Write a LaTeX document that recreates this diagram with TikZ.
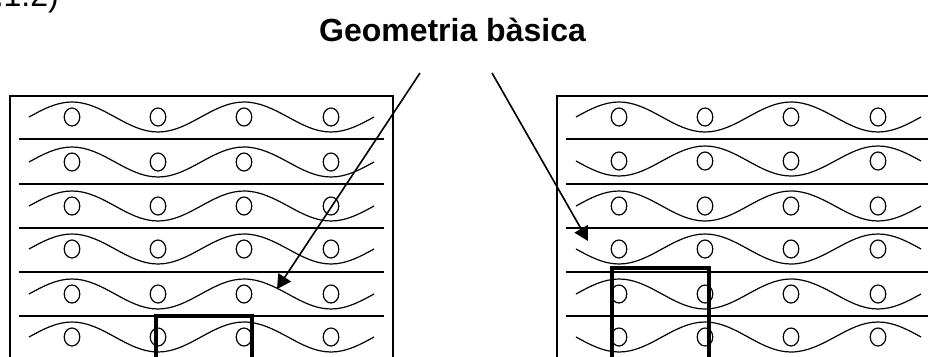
\documentclass[tikz,border=0pt]{standalone}
\usepackage{fontspec}
\setmainfont{Liberation Sans}
\usetikzlibrary{arrows.meta}

\tikzset{
  frameline/.style={draw,line width=1.1pt},
  warpline/.style={draw,line width=1.4pt},
  weftline/.style={draw,line width=1.2pt},
  yarnhole/.style={draw,line width=1.2pt,x radius=7.8,y radius=9},
  unitcell/.style={draw,line width=3.6pt},
  pointer/.style={-{Triangle[length=14pt,width=15pt]},line width=1.6pt},
}

\begin{document}
\begin{tikzpicture}[x=1pt,y=-1pt]
  \useasboundingbox (0,0) rectangle (928,356);
  \begin{scope}
    \clip (0,0) rectangle (928,356);
    \node[font=\fontsize{32}{38}\selectfont,anchor=base east,inner sep=0pt] (secnum) at (59,6.5) {1.1.2)};
    \node[font=\bfseries\fontsize{32}{38}\selectfont,anchor=base,inner sep=0pt] (title) at (452.5,41) {Geometria bàsica};

    % left panel
    \draw[frameline] (10,96) -- (393,96) -- (393,370) -- (10,370) -- cycle;
    \foreach \ypos in {139,184,228,272,316}
      \draw[warpline] (19,\ypos) -- (384,\ypos);
    \foreach \ypos in {117,162,206,249,294,337} {
      \draw[weftline] (29,\ypos) sin (72,\ypos-15) cos (115,\ypos) sin (158,\ypos+15) cos (201,\ypos)
        sin (244,\ypos-15) cos (288,\ypos) sin (331,\ypos+15) cos (374,\ypos);
      \foreach \xpos in {72,158,244,331}
        \draw[yarnhole] (\xpos,\ypos) circle [];
    }
    \draw[unitcell] (156,370) -- (156,316) -- (252,316) -- (252,370);

    % right panel
    \draw[frameline] (557,96) -- (940,96) -- (940,370) -- (557,370) -- cycle;
    \foreach \ypos in {139,184,228,272,316}
      \draw[warpline] (566,\ypos) -- (931,\ypos);
    \foreach \ypos/\amp in {117/15,161/-15,206/15,249/-15,294/15,337/-15} {
      \draw[weftline] (576,\ypos) sin (619,\ypos-\amp) cos (662,\ypos) sin (705,\ypos+\amp) cos (748,\ypos)
        sin (791,\ypos-\amp) cos (835,\ypos) sin (878,\ypos+\amp) cos (921,\ypos);
      \foreach \xpos in {619,705,791,878}
        \draw[yarnhole] (\xpos,\ypos) circle [];
    }
    \draw[unitcell] (612,370) -- (612,268) -- (709,268) -- (709,370);

    % arrows from the title
    \coordinate (leftfrom) at (420,73);
    \coordinate (leftto) at (277,289);
    \coordinate (rightfrom) at (492,73);
    \coordinate (rightto) at (588,241);
    \draw[pointer] (leftfrom) -- (leftto);
    \draw[pointer] (rightfrom) -- (rightto);
  \end{scope}
\end{tikzpicture}
\end{document}
